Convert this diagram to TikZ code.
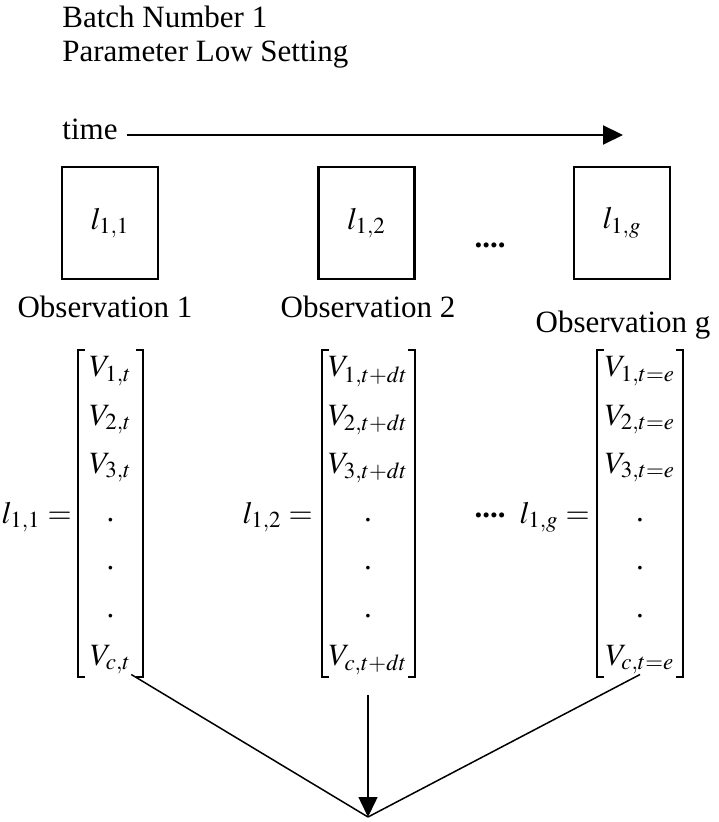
\documentclass[tikz,border=0pt]{standalone}
\usepackage{mathptmx}
\usepackage{fontspec}
\setmainfont{Liberation Serif}
\usetikzlibrary{arrows.meta}
\begin{document}
\begin{tikzpicture}[
  x=0.5pt, y=-0.5pt,
  font=\fontsize{15.5}{19}\selectfont,
  txt/.style={inner sep=0pt, anchor=base west},
  obs/.style={draw, line width=1.3pt, minimum width=48pt, minimum height=56pt, inner sep=0pt},
  obslbl/.style={inner sep=0pt, anchor=base},
  entry/.style={inner sep=0pt, anchor=base},
  lhs/.style={inner sep=0pt, anchor=base east},
  brk/.style={line width=0.55pt},
  more/.style={inner sep=0pt, font=\fontsize{15.5}{19}\selectfont\bfseries},
  link/.style={line width=0.75pt},
  tip/.style={-{Triangle[length=10pt,width=9.5pt]}}
]
\useasboundingbox (0,0) rectangle (718,822);

\node[txt] (batch) at (62,28) {Batch Number 1};
\node[txt] (param) at (62,62) {Parameter Low Setting};
\node[txt] (time)  at (62,140) {time};
\coordinate (tend) at (623,135);
\draw[link, line width=1pt, tip] ([xshift=4.5pt,yshift=2.5pt]time.base east) -- (tend);

% observations
\node[obs] (b1) at (110,223)   {$l_{1,1}$};
\node[obs] (b2) at (366.5,223) {$l_{1,2}$};
\node[obs] (b3) at (622,223)   {$l_{1,g}$};
\node[more] (d1) at (490,245) {....};

\node[obslbl] (o1) at (105,318) {Observation 1};
\node[obslbl] (o2) at (368,318) {Observation 2};
\node[obslbl] (og) at (623,333) {Observation g};

% column vectors
\foreach \m/\cx/\lx/\rx/\s in {1/110.5/78/143/t, 2/368/322/415/t+dt, 3/640/597/683/t=e} {
  \draw[brk] (\lx+7,350) -- (\lx,350) -- (\lx,677) -- (\lx+7,677);
  \draw[brk] (\rx-7,350) -- (\rx,350) -- (\rx,677) -- (\rx-7,677);
  \foreach \r/\e in {0/1, 1/2, 2/3}
    \node[entry] (v\m\e) at (\cx,377+48*\r) {$V_{\e,\s}$};
  \foreach \r in {3,4,5}
    \node[entry] (p\m\r) at (\cx,377+48*\r) {.};
  \node[entry] (vc\m) at (\cx,665) {$V_{c,\s}$};
}

\node[lhs] (e1) at (72,523)  {$l_{1,1} =$};
\node[lhs] (e2) at (313,523) {$l_{1,2} =$};
\node[lhs] (e3) at (590,523) {$l_{1,g} =$};
\node[more] (d2) at (490,515) {....};

\coordinate (conv) at (368,817);
\draw[link] (vc1.south east) -- (conv);
\draw[link] (vc3.south) -- (conv);
\draw[link, tip, shorten <=10pt] (vc2.south) -- (conv);
\end{tikzpicture}
\end{document}
